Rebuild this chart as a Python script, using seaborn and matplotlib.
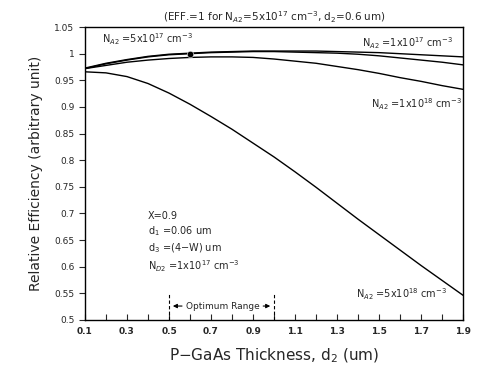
# Relative efficiency vs P-GaAs thickness
#
# python plot.py


import matplotlib
matplotlib.use('Agg')
import matplotlib.pyplot as plt
import numpy as np
import pandas as pd
import seaborn as sns


thickness = [0.1, 0.2, 0.3, 0.4, 0.5, 0.6, 0.7, 0.8, 0.9, 1.0,
             1.1, 1.2, 1.3, 1.4, 1.5, 1.6, 1.7, 1.8, 1.9]

eff_1e17 = [0.973, 0.982, 0.989, 0.995, 0.999, 1.001, 1.003, 1.004, 1.005, 1.005,
            1.005, 1.005, 1.004, 1.003, 1.002, 1.000, 0.998, 0.996, 0.994]
eff_5e17 = [0.972, 0.981, 0.988, 0.994, 0.998, 1.000, 1.002, 1.003, 1.004, 1.004,
            1.003, 1.002, 1.001, 0.999, 0.996, 0.992, 0.988, 0.984, 0.979]
eff_1e18 = [0.972, 0.978, 0.984, 0.988, 0.991, 0.993, 0.994, 0.994, 0.993, 0.990,
            0.986, 0.982, 0.976, 0.970, 0.963, 0.955, 0.948, 0.940, 0.933]
eff_5e18 = [0.966, 0.964, 0.957, 0.944, 0.926, 0.905, 0.882, 0.858, 0.832, 0.806,
            0.778, 0.749, 0.719, 0.689, 0.660, 0.631, 0.602, 0.574, 0.546]

series_names = ['1e17', '5e17', '1e18', '5e18']
ref_point_x = [0.6]
ref_point_y = [1.0]

x_ticks = [0.1, 0.2, 0.3, 0.4, 0.5, 0.6, 0.7, 0.8, 0.9, 1.0,
           1.1, 1.2, 1.3, 1.4, 1.5, 1.6, 1.7, 1.8, 1.9]
x_tick_labels = ['0.1', '', '0.3', '', '0.5', '', '0.7', '', '0.9', '',
                 '1.1', '', '1.3', '', '1.5', '', '1.7', '', '1.9']
y_ticks = [0.5, 0.55, 0.6, 0.65, 0.7, 0.75, 0.8, 0.85, 0.9, 0.95, 1.0, 1.05]
y_tick_labels = ['0.5', '0.55', '0.6', '0.65', '0.7', '0.75', '0.8', '0.85',
                 '0.9', '0.95', '1', '1.05']


def efficiency_plot(out_path='out.png'):
    """
    Draw the efficiency curves and save them.
    """
    sns.set_style('ticks')
    plt.rcParams['font.family'] = ['DejaVu Sans']

    frames = []
    for name, values in zip(series_names, [eff_1e17, eff_5e17, eff_1e18, eff_5e18]):
        frames.append(pd.DataFrame({'d2': thickness, 'eff': values, 'N': name}))
    data = pd.concat(frames, ignore_index=True)

    fig = plt.figure(figsize=(4.8, 3.66), dpi=100)
    ax = fig.add_axes([0.177, 0.126, 0.788, 0.8])

    sns.lineplot(data=data, x='d2', y='eff', hue='N', palette=['black'] * 4,
                 linewidth=1.0, legend=False, ax=ax)
    sns.scatterplot(x=ref_point_x, y=ref_point_y, color='black', s=22, ax=ax, zorder=5)

    ax.set_xlim(0.1, 1.9)
    ax.set_ylim(0.5, 1.05)
    ax.set_xticks(x_ticks)
    ax.set_xticklabels(x_tick_labels, fontsize=6.5, fontweight='bold')
    ax.set_yticks(y_ticks)
    ax.set_yticklabels(y_tick_labels, fontsize=6.5)
    ax.tick_params(axis='x', direction='in', length=4, width=0.8, pad=5)
    ax.tick_params(axis='y', direction='out', length=4, width=0.8)
    for spine in ax.spines.values():
        spine.set_visible(True)
        spine.set_linewidth(1.0)
        spine.set_color('black')

    ax.set_xlabel(r'P$-$GaAs Thickness, d$_2$ (um)', fontsize=11, labelpad=8)
    ax.set_ylabel('Relative Efficiency (arbitrary unit)', fontsize=10, labelpad=8)

    ax.text(0.5, 1.006, r'(EFF.=1 for N$_{A2}$=5x10$^{17}$ cm$^{-3}$, d$_2$=0.6 um)',
            transform=ax.transAxes, ha='center', va='bottom', fontsize=7.5)

    label_kw = dict(fontsize=7, ha='left', va='center')
    ax.text(0.18, 1.027, r'N$_{A2}$ =5x10$^{17}$ cm$^{-3}$', **label_kw)
    ax.text(1.42, 1.02, r'N$_{A2}$ =1x10$^{17}$ cm$^{-3}$', **label_kw)
    ax.text(1.46, 0.906, r'N$_{A2}$ =1x10$^{18}$ cm$^{-3}$', **label_kw)
    ax.text(1.39, 0.548, r'N$_{A2}$ =5x10$^{18}$ cm$^{-3}$', **label_kw)

    ax.text(0.4, 0.645,
            'X=0.9\n' + r'd$_1$ =0.06 um' + '\n' + r'd$_3$ =(4$-$W) um' + '\n'
            + r'N$_{D2}$ =1x10$^{17}$ cm$^{-3}$',
            fontsize=7, ha='left', va='center', linespacing=1.3)

    # optimum range marker
    for xv in [0.5, 1.0]:
        ax.plot([xv, xv], [0.5, 0.548], color='black', linestyle=(0, (3, 2)), linewidth=0.8)
    ax.text(0.755, 0.526, 'Optimum Range', fontsize=6.5, ha='center', va='center')
    ax.annotate('', xy=(0.505, 0.526), xytext=(0.575, 0.526),
                arrowprops=dict(arrowstyle='-|>', color='black', lw=0.8, mutation_scale=6))
    ax.annotate('', xy=(0.995, 0.526), xytext=(0.935, 0.526),
                arrowprops=dict(arrowstyle='-|>', color='black', lw=0.8, mutation_scale=6))

    plt.savefig(out_path, dpi=100)


if __name__ == '__main__':
    efficiency_plot()
